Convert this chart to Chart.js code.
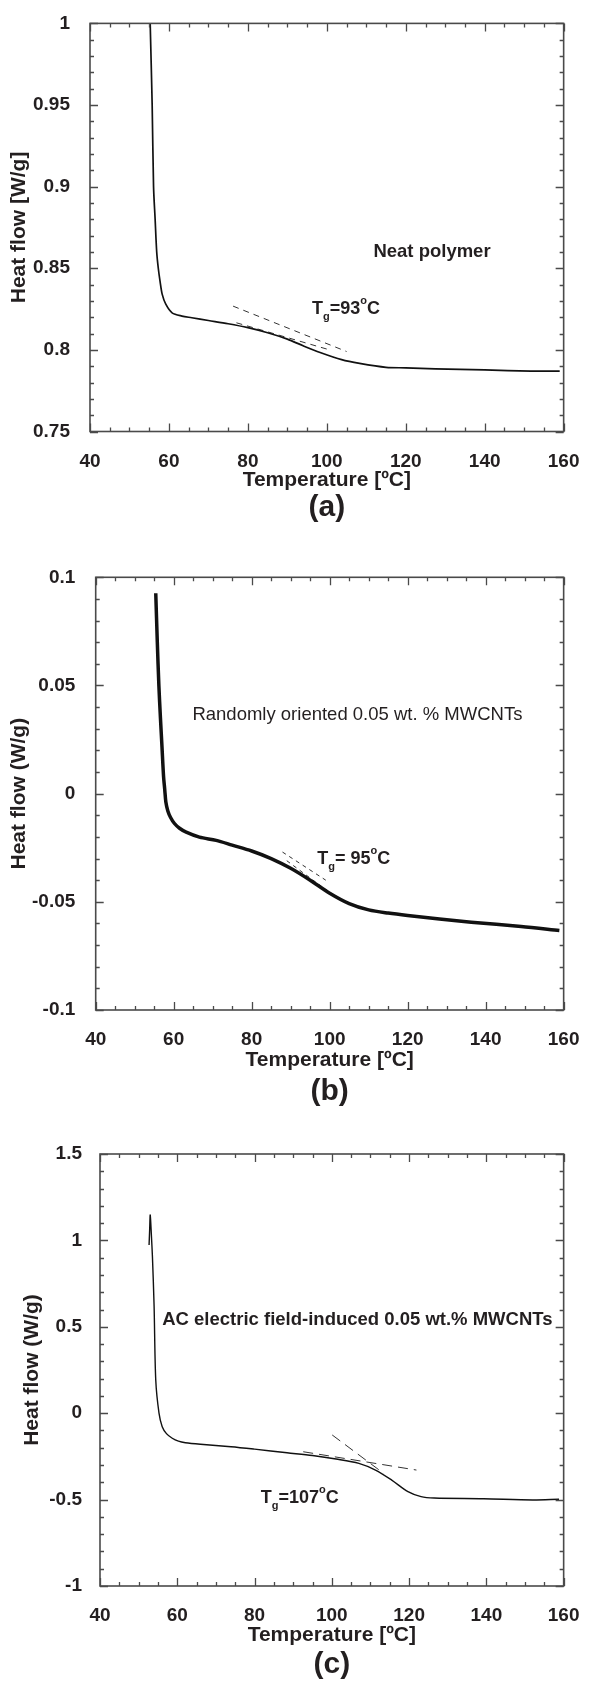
<!DOCTYPE html>
<html><head><meta charset="utf-8">
<script src="https://cdn.jsdelivr.net/npm/chart.js@4.4.1/dist/chart.umd.min.js"></script>
<style>
html,body{margin:0;padding:0;background:#fff;}
body{width:590px;height:1684px;position:relative;overflow:hidden;}
canvas{position:absolute;left:0;}
</style></head><body>
<canvas id="ca" width="590" height="540" style="top:0px"></canvas>
<canvas id="cb" width="590" height="570" style="top:540px"></canvas>
<canvas id="cc" width="590" height="574" style="top:1110px"></canvas>
<script>
// ---------- shared x axis ----------
const xTicks = [40, 60, 80, 100, 120, 140, 160];
const xTickLabels = ['40', '60', '80', '100', '120', '140', '160'];

// ---------- panel (a): neat polymer ----------
const tempA = [55.25, 55.75, 56.1, 56.5, 56.9, 57.3, 57.75, 58.3, 59.2, 60.8, 63.3, 65.8, 70, 75, 80, 85, 90, 94, 98.3, 103.75, 108.3, 115, 120, 127.5, 140, 151.7, 159];
const flowA = [1.0, 0.95, 0.90, 0.88, 0.86, 0.85, 0.842, 0.834, 0.828, 0.8227, 0.8207, 0.8197, 0.818, 0.816, 0.8136, 0.8105, 0.8066, 0.8025, 0.7984, 0.794, 0.7917, 0.7893, 0.789, 0.7884, 0.7877, 0.787, 0.787];
const tanA1T = [76.25, 105], tanA1F = [0.8268, 0.799];
const tanA2T = [77.1, 100], tanA2F = [0.8166, 0.8005];
const yTicksA = [0.75, 0.8, 0.85, 0.9, 0.95, 1];
const yTickLabelsA = ['0.75', '0.8', '0.85', '0.9', '0.95', '1'];

// ---------- panel (b): randomly oriented ----------
const tempB = [55.4, 55.8, 56.2, 56.6, 57.0, 57.4, 57.7, 58.0, 58.5, 59.2, 60.2, 61.5, 63.2, 66.6, 70.9, 75, 80, 85, 90, 95, 100, 105, 110, 115, 120, 136.3, 149.1, 158.9];
const flowB = [0.0926, 0.07, 0.05, 0.035, 0.0216, 0.008, 0.002, -0.004, -0.008, -0.011, -0.0138, -0.016, -0.0178, -0.0201, -0.0216, -0.0238, -0.0265, -0.030, -0.0345, -0.040, -0.046, -0.0508, -0.0537, -0.0552, -0.0563, -0.0594, -0.0614, -0.0633];
const tanB1T = [87.9, 99], tanB1F = [-0.027, -0.040];
const tanB2T = [89, 101], tanB2F = [-0.031, -0.047];
const yTicksB = [-0.1, -0.05, 0, 0.05, 0.1];
const yTickLabelsB = ['-0.1', '-0.05', '0', '0.05', '0.1'];

// ---------- panel (c): AC field-induced ----------
const tempC = [52.7, 52.85, 53.0, 53.3, 53.57, 54.0, 54.43, 55.27, 56.1, 57.2, 58.7, 60.3, 62.1, 66, 73.9, 80, 88.4, 95, 101.1, 107, 111.3, 115.5, 119.7, 123.1, 126.5, 139.3, 152, 158.8];
const flowC = [0.973, 1.06, 1.147, 1.03, 0.906, 0.62, 0.192, 0.0, -0.078, -0.118, -0.145, -0.162, -0.171, -0.18, -0.194, -0.208, -0.229, -0.245, -0.265, -0.29, -0.329, -0.387, -0.454, -0.483, -0.491, -0.495, -0.502, -0.498];
const tanC1T = [100.1, 113.4], tanC1F = [-0.126, -0.348];
const tanC2T = [92.6, 121.9], tanC2F = [-0.223, -0.329];
const yTicksC = [-1, -0.5, 0, 0.5, 1, 1.5];
const yTickLabelsC = ['-1', '-0.5', '0', '0.5', '1', '1.5'];

const FONT = "'Liberation Sans', Arial, Helvetica, sans-serif";
const TXT = '#231f20';

function pts(t, f) { return t.map((v, i) => ({x: v, y: f[i]})); }

const framePlugin = {
  id: 'frameTicks',
  afterDatasetsDraw(chart, args, o) {
    const {ctx, chartArea: a, scales: {x, y}} = chart;
    ctx.save();
    ctx.strokeStyle = '#4a4a4a';
    ctx.lineWidth = 1.3;
    ctx.beginPath();
    const xm = [];
    for (let v = x.min; v <= x.max + 1e-9; v += o.xMinor) xm.push(v);
    xm.forEach(v => {
      const px = Math.round(x.getPixelForValue(v)) + 0.5;
      const major = o.xMajor.some(m => Math.abs(m - v) < 1e-6);
      const L = major ? 8 : 4;
      ctx.moveTo(px, a.bottom); ctx.lineTo(px, a.bottom - L);
      ctx.moveTo(px, a.top); ctx.lineTo(px, a.top + L);
    });
    const steps = Math.round((y.max - y.min) / o.yMinor);
    for (let k = 0; k <= steps; k++) {
      const v = y.min + k * o.yMinor;
      const py = Math.round(y.getPixelForValue(v)) + 0.5;
      const major = o.yMajor.some(m => Math.abs(m - v) < 1e-6);
      const L = major ? 8 : 4;
      ctx.moveTo(a.left, py); ctx.lineTo(a.left + L, py);
      ctx.moveTo(a.right, py); ctx.lineTo(a.right - L, py);
    }
    ctx.stroke();
    ctx.lineWidth = 1.6;
    ctx.strokeRect(a.left, a.top, a.right - a.left, a.bottom - a.top);
    // panel label
    ctx.fillStyle = TXT;
    ctx.font = "bold 30px " + FONT;
    ctx.textAlign = 'center';
    ctx.textBaseline = 'middle';
    ctx.fillText(o.panel, (a.left + a.right) / 2, a.bottom + o.panelOffset);
    // annotations
    ctx.textAlign = 'left';
    ctx.textBaseline = 'alphabetic';
    (o.notes || []).forEach(n => {
      const px = x.getPixelForValue(n.x), py = y.getPixelForValue(n.y);
      let cx = px;
      const base = py + n.size * 0.36;
      n.parts.forEach(p => {
        const sz = p.size || n.size;
        ctx.font = (n.bold ? 'bold ' : '') + sz + 'px ' + FONT;
        ctx.fillText(p.t, cx, base + (p.dy || 0));
        cx += ctx.measureText(p.t).width;
      });
    });
    ctx.restore();
  }
};

function makeChart(id, cfg) {
  const datasets = [{
    data: pts(cfg.t, cfg.f), borderColor: '#111', borderWidth: cfg.lw, pointRadius: 0,
    tension: 0.3, fill: false
  }];
  cfg.tans.forEach(tn => datasets.push({
    data: pts(tn[0], tn[1]), borderColor: '#333', borderWidth: 1, borderDash: cfg.dash,
    pointRadius: 0, fill: false
  }));
  return new Chart(document.getElementById(id), {
    type: 'line',
    data: {datasets},
    plugins: [framePlugin],
    options: {
      responsive: false, animation: false, devicePixelRatio: 1,
      layout: {padding: cfg.pad},
      plugins: {legend: {display: false}, tooltip: {enabled: false},
        frameTicks: {xMajor: xTicks, xMinor: 5, yMajor: cfg.yTicks, yMinor: cfg.yMinor,
          panel: cfg.panel, panelOffset: cfg.panelOffset, notes: cfg.notes}},
      scales: {
        x: {
          type: 'linear', min: 40, max: 160,
          afterBuildTicks: s => { s.ticks = xTicks.map(v => ({value: v})); },
          afterFit: s => { s.height = cfg.xh; },
          grid: {display: false}, border: {display: false},
          ticks: {padding: 10.5, color: TXT, font: {family: FONT, size: 19, weight: 'bold'},
            callback: (v, i) => xTickLabels[i]},
          title: {display: true, text: 'Temperature [ºC]', color: TXT, padding: {top: 0, bottom: 0},
            font: {family: FONT, size: 21, weight: 'bold'}}
        },
        y: {
          type: 'linear', min: cfg.yTicks[0], max: cfg.yTicks[cfg.yTicks.length - 1],
          afterBuildTicks: s => { s.ticks = cfg.yTicks.map(v => ({value: v})); },
          afterFit: s => { s.width = cfg.yw; },
          grid: {display: false}, border: {display: false},
          ticks: {padding: cfg.ypad, color: TXT, font: {family: FONT, size: 19, weight: 'bold'},
            callback: (v, i) => cfg.yLabels[i]},
          title: {display: true, text: cfg.ytitle, color: TXT, padding: {top: cfg.ytp, bottom: 0},
            font: {family: FONT, size: 21, weight: 'bold'}}
        }
      }
    }
  });
}

makeChart('ca', {
  t: tempA, f: flowA, lw: 1.7, dash: [6, 5],
  tans: [[tanA1T, tanA1F], [tanA2T, tanA2F]],
  yTicks: yTicksA, yLabels: yTickLabelsA, yMinor: 0.01,
  pad: {left: 0, right: 20, top: 19.5, bottom: 47.4}, xh: 61.1, yw: 90, ypad: 12, ytp: 6.4,
  ytitle: 'Heat flow [W/g]', panel: '(a)', panelOffset: 76.5,
  notes: [
    {x: 111.8, y: 0.8612, size: 18.5, bold: true, parts: [{t: 'Neat polymer'}]},
    {x: 96.25, y: 0.8257, size: 18, bold: true, parts: [{t: 'T'}, {t: 'g', size: 11, dy: 6}, {t: '=93'}, {t: 'o', size: 11, dy: -10}, {t: 'C'}]}
  ]
});

makeChart('cb', {
  t: tempB, f: flowB, lw: 3.5, dash: [4, 4],
  tans: [[tanB1T, tanB1F], [tanB2T, tanB2F]],
  yTicks: yTicksB, yLabels: yTickLabelsB, yMinor: 0.01,
  pad: {left: 0, right: 24, top: 37.3, bottom: 37.4}, xh: 62.6, yw: 95.7, ypad: 12.4, ytp: 6.4,
  ytitle: 'Heat flow (W/g)', panel: '(b)', panelOffset: 82,
  notes: [
    {x: 64.8, y: 0.0372, size: 18.5, bold: false, parts: [{t: 'Randomly oriented 0.05 wt. % MWCNTs'}]},
    {x: 96.8, y: -0.0295, size: 18, bold: true, parts: [{t: 'T'}, {t: 'g', size: 11, dy: 6}, {t: '= 95'}, {t: 'o', size: 11, dy: -10}, {t: 'C'}]}
  ]
});

makeChart('cc', {
  t: tempC, f: flowC, lw: 1.4, dash: [10, 6],
  tans: [[tanC1T, tanC1F], [tanC2T, tanC2F]],
  yTicks: yTicksC, yLabels: yTickLabelsC, yMinor: 0.1,
  pad: {left: 0, right: 18.5, top: 44, bottom: 36.4}, xh: 61.6, yw: 100, ypad: 10, ytp: 19.9,
  ytitle: 'Heat flow (W/g)', panel: '(c)', panelOffset: 79,
  notes: [
    {x: 56.1, y: 0.549, size: 18.5, bold: true, parts: [{t: 'AC electric field-induced 0.05 wt.% MWCNTs'}]},
    {x: 81.6, y: -0.483, size: 18, bold: true, parts: [{t: 'T'}, {t: 'g', size: 11, dy: 6}, {t: '=107'}, {t: 'o', size: 11, dy: -10}, {t: 'C'}]}
  ]
});
</script></body></html>
